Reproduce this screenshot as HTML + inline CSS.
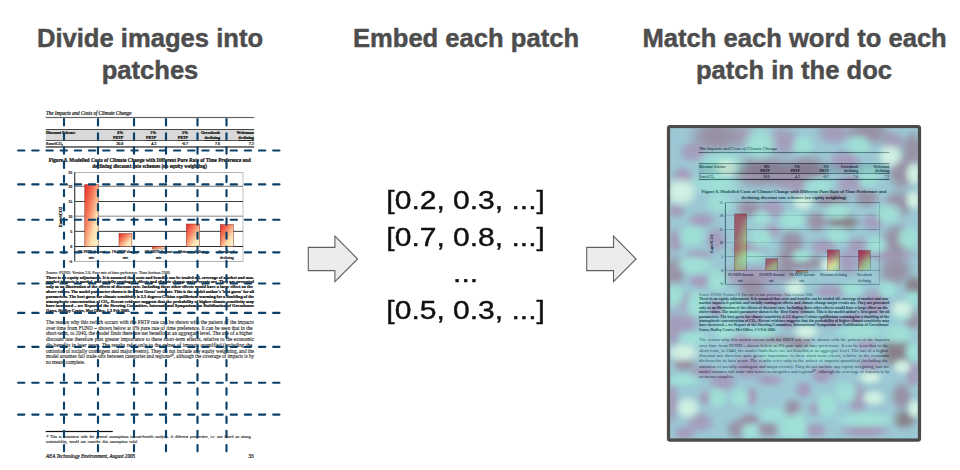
<!DOCTYPE html>
<html><head><meta charset="utf-8">
<style>
html,body{margin:0;padding:0;background:#fff;width:960px;height:470px;overflow:hidden}
.t{position:absolute;font-family:"Liberation Sans",sans-serif;font-weight:bold;color:#4d4d4d;font-size:25.6px;line-height:31.6px;-webkit-text-stroke:0.45px #4d4d4d;text-align:center;white-space:nowrap}
.v{position:absolute;font-family:"Liberation Sans",sans-serif;color:#111;font-size:25px;line-height:36.5px;text-align:center;white-space:nowrap;transform:scaleX(1.2);transform-origin:465.6px 0;-webkit-text-stroke:0.4px #111}
svg{position:absolute;left:0;top:0}
</style></head><body>
<svg width="960" height="470" viewBox="0 0 960 470" font-family="Liberation Serif">
<defs>
<linearGradient id="bargrad" x1="0" y1="0" x2="1" y2="1">
<stop offset="0" stop-color="#e8282a"/><stop offset="0.35" stop-color="#f57a5a"/><stop offset="0.7" stop-color="#fde0b0"/><stop offset="1" stop-color="#fff8d0"/>
</linearGradient>
<linearGradient id="bargradR" x1="0" y1="0" x2="0.6" y2="1"><stop offset="0" stop-color="#ff1820"/><stop offset="0.35" stop-color="#ff3a3a"/><stop offset="0.75" stop-color="#ffe070"/><stop offset="1" stop-color="#f0ffa0"/></linearGradient>
<radialGradient id="gPU"><stop offset="0" stop-color="#4b3a78" stop-opacity="1"/><stop offset="0.45" stop-color="#4b3a78" stop-opacity="0.9"/><stop offset="0.75" stop-color="#4b3a78" stop-opacity="0.4"/><stop offset="1" stop-color="#4b3a78" stop-opacity="0"/></radialGradient>
<radialGradient id="gMV"><stop offset="0" stop-color="#35224a" stop-opacity="1"/><stop offset="0.45" stop-color="#35224a" stop-opacity="0.9"/><stop offset="0.75" stop-color="#35224a" stop-opacity="0.4"/><stop offset="1" stop-color="#35224a" stop-opacity="0"/></radialGradient>
<radialGradient id="gDK"><stop offset="0" stop-color="#150015" stop-opacity="1"/><stop offset="0.45" stop-color="#150015" stop-opacity="0.9"/><stop offset="0.75" stop-color="#150015" stop-opacity="0.4"/><stop offset="1" stop-color="#150015" stop-opacity="0"/></radialGradient>
<radialGradient id="gLC"><stop offset="0" stop-color="#41c3af" stop-opacity="1"/><stop offset="0.45" stop-color="#41c3af" stop-opacity="0.9"/><stop offset="0.75" stop-color="#41c3af" stop-opacity="0.4"/><stop offset="1" stop-color="#41c3af" stop-opacity="0"/></radialGradient>
<radialGradient id="gBR"><stop offset="0" stop-color="#a8e6c8" stop-opacity="1"/><stop offset="0.45" stop-color="#a8e6c8" stop-opacity="0.9"/><stop offset="0.75" stop-color="#a8e6c8" stop-opacity="0.4"/><stop offset="1" stop-color="#a8e6c8" stop-opacity="0"/></radialGradient>

<g id="doc">
<text stroke="#222" stroke-width="0.22" x="46" y="114.6" font-size="5.05" font-style="italic" fill="#222">The Impacts and Costs of Climate Change</text>
<rect x="45.7" y="116.9" width="208.5" height="1.2" fill="#666"/>
<rect x="45.7" y="129.6" width="208.5" height="10.8" fill="#d9d9d9"/>
<rect x="45.7" y="129.0" width="208.5" height="0.9" fill="#333"/>
<rect x="45.7" y="140.2" width="208.5" height="0.8" fill="#333"/>
<rect x="45.7" y="146.3" width="208.5" height="1.3" fill="#333"/>
<text stroke="#111" stroke-width="0.22" x="46" y="134.3" font-size="4" font-weight="bold" fill="#111">Discount Scheme</text>
<text stroke="#111" stroke-width="0.22" x="123.3" y="134.0" font-size="4" font-weight="bold" text-anchor="end" fill="#111">0%</text>
<text stroke="#111" stroke-width="0.22" x="123.3" y="139.3" font-size="4" font-weight="bold" text-anchor="end" fill="#111" text-decoration="underline">PRTP</text>
<text stroke="#111" stroke-width="0.22" x="123.3" y="145.2" font-size="4" text-anchor="end" fill="#111">20.8</text>
<text stroke="#111" stroke-width="0.22" x="156.3" y="134.0" font-size="4" font-weight="bold" text-anchor="end" fill="#111">1%</text>
<text stroke="#111" stroke-width="0.22" x="156.3" y="139.3" font-size="4" font-weight="bold" text-anchor="end" fill="#111" text-decoration="underline">PRTP</text>
<text stroke="#111" stroke-width="0.22" x="156.3" y="145.2" font-size="4" text-anchor="end" fill="#111">4.2</text>
<text stroke="#111" stroke-width="0.22" x="188" y="134.0" font-size="4" font-weight="bold" text-anchor="end" fill="#111">3%</text>
<text stroke="#111" stroke-width="0.22" x="188" y="139.3" font-size="4" font-weight="bold" text-anchor="end" fill="#111" text-decoration="underline">PRTP</text>
<text stroke="#111" stroke-width="0.22" x="188" y="145.2" font-size="4" text-anchor="end" fill="#111">-0.7</text>
<text stroke="#111" stroke-width="0.22" x="220" y="134.0" font-size="4" font-weight="bold" text-anchor="end" fill="#111">Greenbook</text>
<text stroke="#111" stroke-width="0.22" x="220" y="139.3" font-size="4" font-weight="bold" text-anchor="end" fill="#111" text-decoration="underline">declining</text>
<text stroke="#111" stroke-width="0.22" x="220" y="145.2" font-size="4" text-anchor="end" fill="#111">7.6</text>
<text stroke="#111" stroke-width="0.22" x="253.8" y="134.0" font-size="4" font-weight="bold" text-anchor="end" fill="#111">Weitzman</text>
<text stroke="#111" stroke-width="0.22" x="253.8" y="139.3" font-size="4" font-weight="bold" text-anchor="end" fill="#111" text-decoration="underline">declining</text>
<text stroke="#111" stroke-width="0.22" x="253.8" y="145.2" font-size="4" text-anchor="end" fill="#111">7.2</text>
<text stroke="#111" stroke-width="0.22" x="46" y="145.2" font-size="4" fill="#111">Euro/tCO₂</text>
<text stroke="#111" stroke-width="0.22" x="48.8" y="162.0" font-size="5.35" font-weight="bold" fill="#111" textLength="201.9" lengthAdjust="spacingAndGlyphs">Figure 8.  Modelled Costs of Climate Change with Different Pure Rate of Time Preference and</text>
<text stroke="#111" stroke-width="0.22" x="92.3" y="167.9" font-size="5.35" font-weight="bold" fill="#111" textLength="114.7" lengthAdjust="spacingAndGlyphs">declining discount rate schemes (no equity weighting)</text>
<rect x="74.9" y="172.3" width="168.1" height="89.2" fill="#fff" stroke="#999" stroke-width="0.6"/>
<rect class="gl" x="74.9" y="172.0" width="168.1" height="0.6" fill="#aaa"/>
<text stroke="#222" stroke-width="0.22" x="72.3" y="173.60000000000002" font-size="4" text-anchor="end" fill="#222">25</text>
<rect class="gl" x="74.9" y="185.70000000000002" width="168.1" height="1.2" fill="#888"/>
<text stroke="#222" stroke-width="0.22" x="72.3" y="187.60000000000002" font-size="4" text-anchor="end" fill="#222">20</text>
<rect class="gl" x="74.9" y="201.2" width="168.1" height="0.8" fill="#111"/>
<text stroke="#222" stroke-width="0.22" x="72.3" y="202.9" font-size="4" text-anchor="end" fill="#222">15</text>
<rect class="gl" x="74.9" y="215.6" width="168.1" height="1.2" fill="#999"/>
<text stroke="#222" stroke-width="0.22" x="72.3" y="217.5" font-size="4" text-anchor="end" fill="#222">10</text>
<rect class="gl" x="74.9" y="230.9" width="168.1" height="0.8" fill="#111"/>
<text stroke="#222" stroke-width="0.22" x="72.3" y="232.60000000000002" font-size="4" text-anchor="end" fill="#222">5</text>
<rect class="gl" x="74.9" y="246.05" width="168.1" height="0.9" fill="#111"/>
<text stroke="#222" stroke-width="0.22" x="72.3" y="247.8" font-size="4" text-anchor="end" fill="#222">0</text>
<rect class="gl" x="74.9" y="261.09999999999997" width="168.1" height="0.6" fill="#aaa"/>
<text stroke="#222" stroke-width="0.22" x="72.3" y="262.7" font-size="4" text-anchor="end" fill="#222">-5</text>
<rect x="74.3" y="172.3" width="0.9" height="89.2" fill="#222"/>
<text stroke="#111" stroke-width="0.22" transform="translate(61.6,217) rotate(-90)" font-size="4.3" font-weight="bold" text-anchor="middle" fill="#111">Euro/tCO2</text>
<rect x="84.8" y="184.6" width="13.400000000000006" height="61.900000000000006" fill="url(#bargrad)" stroke="#8a2a1a" stroke-width="0.5"/>
<rect x="119" y="233.5" width="12.900000000000006" height="13.0" fill="url(#bargrad)" stroke="#8a2a1a" stroke-width="0.5"/>
<rect x="152.3" y="246.5" width="12.699999999999989" height="2.5" fill="url(#bargrad)" stroke="#8a2a1a" stroke-width="0.5"/>
<rect x="186.3" y="224.0" width="13.299999999999983" height="22.5" fill="url(#bargrad)" stroke="#8a2a1a" stroke-width="0.5"/>
<rect x="220.3" y="224.6" width="13.0" height="21.900000000000006" fill="url(#bargrad)" stroke="#8a2a1a" stroke-width="0.5"/>
<text stroke="#222" stroke-width="0.22" x="91.5" y="253.0" font-size="3.7" text-anchor="middle" fill="#222">0% PRTP discount</text>
<text stroke="#222" stroke-width="0.22" x="91.5" y="259.1" font-size="3.7" text-anchor="middle" fill="#222">rate</text>
<text stroke="#222" stroke-width="0.22" x="125.45" y="253.0" font-size="3.7" text-anchor="middle" fill="#222">1% PRTP discount</text>
<text stroke="#222" stroke-width="0.22" x="125.45" y="259.1" font-size="3.7" text-anchor="middle" fill="#222">rate</text>
<text stroke="#222" stroke-width="0.22" x="158.65" y="253.0" font-size="3.7" text-anchor="middle" fill="#222">3% PRTP discount</text>
<text stroke="#222" stroke-width="0.22" x="158.65" y="259.1" font-size="3.7" text-anchor="middle" fill="#222">rate</text>
<text stroke="#222" stroke-width="0.22" x="192.95" y="253.0" font-size="3.7" text-anchor="middle" fill="#222">Weitzman declining</text>
<text stroke="#222" stroke-width="0.22" x="226.8" y="253.0" font-size="3.7" text-anchor="middle" fill="#222">Greenbook</text>
<text stroke="#222" stroke-width="0.22" x="226.8" y="259.1" font-size="3.7" text-anchor="middle" fill="#222">declining</text>
<text stroke="#555" stroke-width="0.22" x="46" y="274.3" font-size="3.9" fill="#555" textLength="124.6" lengthAdjust="spacingAndGlyphs">Source: FUND.  Version 2.8.  Pure rate of time preference.  Time horizon 2300.</text>
<text stroke="#111" stroke-width="0.22" x="46" y="278.60" font-size="4.3" fill="#111" font-weight="bold" textLength="208" lengthAdjust="spacingAndGlyphs">There is no equity adjustment.  It is assumed that costs and benefits can be traded off, coverage of market and non-</text>
<text stroke="#111" stroke-width="0.22" x="46" y="283.41" font-size="4.3" fill="#111" font-weight="bold" textLength="208" lengthAdjust="spacingAndGlyphs">market impacts is partial, and socially contingent effects and climate change major events are.  They are presented</text>
<text stroke="#111" stroke-width="0.22" x="46" y="288.22" font-size="4.3" fill="#111" font-weight="bold" word-spacing="0.016">only as an illustration of the effects of discount rate.  Including these other effects would have a large effect on the</text>
<text stroke="#111" stroke-width="0.22" x="46" y="293.03" font-size="4.3" fill="#111" font-weight="bold" textLength="208" lengthAdjust="spacingAndGlyphs">above values.  The model parameter shown is the 'Best Guess' estimate.  This is the model author's 'best guess' for all</text>
<text stroke="#111" stroke-width="0.22" x="46" y="297.84" font-size="4.3" fill="#111" font-weight="bold" textLength="208" lengthAdjust="spacingAndGlyphs">parameters.  The best guess for climate sensitivity is 2.5 degrees Celsius equilibrium warming for a doubling of the</text>
<text stroke="#111" stroke-width="0.22" x="46" y="302.65" font-size="4.3" fill="#111" font-weight="bold" textLength="208" lengthAdjust="spacingAndGlyphs">atmospheric concentration of CO₂.  Recent evidence suggests that the probability of higher climate sensitivity may</text>
<text stroke="#111" stroke-width="0.22" x="46" y="307.46" font-size="4.3" fill="#111" font-weight="bold" word-spacing="0.129">have increased – see Report of the Steering Committee, International Symposium on Stabilisation of Greenhouse</text>
<text stroke="#111" stroke-width="0.22" x="46" y="312.27" font-size="4.3" fill="#111" font-weight="bold" textLength="84" lengthAdjust="spacingAndGlyphs">Gases, Hadley Centre, Met Office, 1-3 Feb 2005.</text>
<text stroke="#1a1a1a" stroke-width="0.099" class="n" x="46" y="323.90" font-size="5.2" fill="#1a1a1a" word-spacing="0.096">The reason why this switch occurs with the PRTP rate can be shown with the pattern of the impacts</text>
<text stroke="#1a1a1a" stroke-width="0.099" class="n" x="46" y="329.63" font-size="5.2" fill="#1a1a1a" word-spacing="0.110">over time from FUND – shown below at 0% pure rate of time preference.  It can be seen that in the</text>
<text stroke="#1a1a1a" stroke-width="0.099" class="n" x="46" y="335.36" font-size="5.2" fill="#1a1a1a" word-spacing="0.030">short-term, to 2040, the model finds there are net benefits at an aggregate level.  The use of a higher</text>
<text stroke="#1a1a1a" stroke-width="0.099" class="n" x="46" y="341.09" font-size="5.2" fill="#1a1a1a" word-spacing="0.252">discount rate therefore puts greater importance to these short-term effects, relative to the economic</text>
<text stroke="#1a1a1a" stroke-width="0.099" class="n" x="46" y="346.82" font-size="5.2" fill="#1a1a1a" word-spacing="0.278">dis-benefits in later years.  The results refer only to the subset of impacts quantified (including the</text>
<text stroke="#1a1a1a" stroke-width="0.099" class="n" x="46" y="352.55" font-size="5.2" fill="#1a1a1a" textLength="208" lengthAdjust="spacingAndGlyphs">omission of socially contingent and major events).  They do not include any equity weighting, and the</text>
<text stroke="#1a1a1a" stroke-width="0.099" class="n" x="46" y="358.28" font-size="5.2" fill="#1a1a1a" textLength="208" lengthAdjust="spacingAndGlyphs">model assumes full trade-offs between categories and regions⁴⁰, although the coverage of impacts is by</text>
<text stroke="#1a1a1a" stroke-width="0.099" class="n" x="46" y="364.01" font-size="5.2" fill="#1a1a1a" textLength="39" lengthAdjust="spacingAndGlyphs">no means complete.</text>
<rect x="45.7" y="430.9" width="67.1" height="1.2" fill="#111"/>
<text stroke="#222" stroke-width="0.099" class="n" x="46" y="438.30" font-size="3.9" fill="#222" word-spacing="0.851">⁴⁰ This is consistent with the general assumptions in cost-benefit analysis.  A different perspective, i.e. one based on strong</text>
<text stroke="#222" stroke-width="0.099" class="n" x="46" y="442.80" font-size="3.9" fill="#222" word-spacing="0.787">sustainability, would not consider this assumption valid.</text>
<text stroke="#222" stroke-width="0.22" x="46" y="458" font-size="5.07" font-style="italic" fill="#222" textLength="89" lengthAdjust="spacingAndGlyphs">AEA Technology Environment, August 2005</text>
<text stroke="#222" stroke-width="0.22" x="253.5" y="458" font-size="5.07" text-anchor="end" fill="#222">33</text>
</g>
<g id="docR">
<text stroke="#222" stroke-width="0.1" x="46" y="114.6" font-size="5.05" font-style="italic" fill="#222">The Impacts and Costs of Climate Change</text>
<rect x="45.7" y="116.9" width="208.5" height="1.2" fill="#666"/>
<rect x="45.7" y="129.6" width="208.5" height="10.8" fill="#d9d9d9"/>
<rect x="45.7" y="129.0" width="208.5" height="0.9" fill="#333"/>
<rect x="45.7" y="140.2" width="208.5" height="0.8" fill="#333"/>
<rect x="45.7" y="146.3" width="208.5" height="1.3" fill="#333"/>
<text stroke="#111" stroke-width="0.1" x="46" y="134.3" font-size="4" font-weight="bold" fill="#111">Discount Scheme</text>
<text stroke="#111" stroke-width="0.1" x="123.3" y="134.0" font-size="4" font-weight="bold" text-anchor="end" fill="#111">0%</text>
<text stroke="#111" stroke-width="0.1" x="123.3" y="139.3" font-size="4" font-weight="bold" text-anchor="end" fill="#111" text-decoration="underline">PRTP</text>
<text stroke="#111" stroke-width="0.1" x="123.3" y="145.2" font-size="4" text-anchor="end" fill="#111">20.8</text>
<text stroke="#111" stroke-width="0.1" x="156.3" y="134.0" font-size="4" font-weight="bold" text-anchor="end" fill="#111">1%</text>
<text stroke="#111" stroke-width="0.1" x="156.3" y="139.3" font-size="4" font-weight="bold" text-anchor="end" fill="#111" text-decoration="underline">PRTP</text>
<text stroke="#111" stroke-width="0.1" x="156.3" y="145.2" font-size="4" text-anchor="end" fill="#111">4.2</text>
<text stroke="#111" stroke-width="0.1" x="188" y="134.0" font-size="4" font-weight="bold" text-anchor="end" fill="#111">3%</text>
<text stroke="#111" stroke-width="0.1" x="188" y="139.3" font-size="4" font-weight="bold" text-anchor="end" fill="#111" text-decoration="underline">PRTP</text>
<text stroke="#111" stroke-width="0.1" x="188" y="145.2" font-size="4" text-anchor="end" fill="#111">-0.7</text>
<text stroke="#111" stroke-width="0.1" x="220" y="134.0" font-size="4" font-weight="bold" text-anchor="end" fill="#111">Greenbook</text>
<text stroke="#111" stroke-width="0.1" x="220" y="139.3" font-size="4" font-weight="bold" text-anchor="end" fill="#111" text-decoration="underline">declining</text>
<text stroke="#111" stroke-width="0.1" x="220" y="145.2" font-size="4" text-anchor="end" fill="#111">7.6</text>
<text stroke="#111" stroke-width="0.1" x="253.8" y="134.0" font-size="4" font-weight="bold" text-anchor="end" fill="#111">Weitzman</text>
<text stroke="#111" stroke-width="0.1" x="253.8" y="139.3" font-size="4" font-weight="bold" text-anchor="end" fill="#111" text-decoration="underline">declining</text>
<text stroke="#111" stroke-width="0.1" x="253.8" y="145.2" font-size="4" text-anchor="end" fill="#111">7.2</text>
<text stroke="#111" stroke-width="0.1" x="46" y="145.2" font-size="4" fill="#111">Euro/tCO₂</text>
<text stroke="#111" stroke-width="0.1" x="48.8" y="162.0" font-size="5.35" font-weight="bold" fill="#111" textLength="201.9" lengthAdjust="spacingAndGlyphs">Figure 8.  Modelled Costs of Climate Change with Different Pure Rate of Time Preference and</text>
<text stroke="#111" stroke-width="0.1" x="92.3" y="167.9" font-size="5.35" font-weight="bold" fill="#111" textLength="114.7" lengthAdjust="spacingAndGlyphs">declining discount rate schemes (no equity weighting)</text>
<rect x="74.9" y="172.3" width="168.1" height="89.2" fill="#fff" stroke="#999" stroke-width="0.6"/>
<rect class="gl" x="74.9" y="172.0" width="168.1" height="0.5" fill="#555"/>
<text stroke="#222" stroke-width="0.1" x="72.3" y="173.60000000000002" font-size="4" text-anchor="end" fill="#222">25</text>
<rect class="gl" x="74.9" y="185.70000000000002" width="168.1" height="0.5" fill="#9a9a9a"/>
<text stroke="#222" stroke-width="0.1" x="72.3" y="187.60000000000002" font-size="4" text-anchor="end" fill="#222">20</text>
<rect class="gl" x="74.9" y="201.2" width="168.1" height="0.5" fill="#555"/>
<text stroke="#222" stroke-width="0.1" x="72.3" y="202.9" font-size="4" text-anchor="end" fill="#222">15</text>
<rect class="gl" x="74.9" y="215.6" width="168.1" height="0.5" fill="#9a9a9a"/>
<text stroke="#222" stroke-width="0.1" x="72.3" y="217.5" font-size="4" text-anchor="end" fill="#222">10</text>
<rect class="gl" x="74.9" y="230.9" width="168.1" height="0.5" fill="#555"/>
<text stroke="#222" stroke-width="0.1" x="72.3" y="232.60000000000002" font-size="4" text-anchor="end" fill="#222">5</text>
<rect class="gl" x="74.9" y="246.05" width="168.1" height="0.5" fill="#555"/>
<text stroke="#222" stroke-width="0.1" x="72.3" y="247.8" font-size="4" text-anchor="end" fill="#222">0</text>
<rect class="gl" x="74.9" y="261.09999999999997" width="168.1" height="0.5" fill="#555"/>
<text stroke="#222" stroke-width="0.1" x="72.3" y="262.7" font-size="4" text-anchor="end" fill="#222">-5</text>
<rect x="74.3" y="172.3" width="0.9" height="89.2" fill="#222"/>
<text stroke="#111" stroke-width="0.1" transform="translate(61.6,217) rotate(-90)" font-size="4.3" font-weight="bold" text-anchor="middle" fill="#111">Euro/tCO2</text>
<rect x="84.8" y="184.6" width="13.400000000000006" height="61.900000000000006" fill="url(#bargradR)" stroke="#8a2a1a" stroke-width="0.5"/>
<rect x="119" y="233.5" width="12.900000000000006" height="13.0" fill="url(#bargradR)" stroke="#8a2a1a" stroke-width="0.5"/>
<rect x="152.3" y="246.5" width="12.699999999999989" height="2.5" fill="url(#bargradR)" stroke="#8a2a1a" stroke-width="0.5"/>
<rect x="186.3" y="224.0" width="13.299999999999983" height="22.5" fill="url(#bargradR)" stroke="#8a2a1a" stroke-width="0.5"/>
<rect x="220.3" y="224.6" width="13.0" height="21.900000000000006" fill="url(#bargradR)" stroke="#8a2a1a" stroke-width="0.5"/>
<text stroke="#222" stroke-width="0.1" x="91.5" y="253.0" font-size="3.7" text-anchor="middle" fill="#222">0% PRTP discount</text>
<text stroke="#222" stroke-width="0.1" x="91.5" y="259.1" font-size="3.7" text-anchor="middle" fill="#222">rate</text>
<text stroke="#222" stroke-width="0.1" x="125.45" y="253.0" font-size="3.7" text-anchor="middle" fill="#222">1% PRTP discount</text>
<text stroke="#222" stroke-width="0.1" x="125.45" y="259.1" font-size="3.7" text-anchor="middle" fill="#222">rate</text>
<text stroke="#222" stroke-width="0.1" x="158.65" y="253.0" font-size="3.7" text-anchor="middle" fill="#222">3% PRTP discount</text>
<text stroke="#222" stroke-width="0.1" x="158.65" y="259.1" font-size="3.7" text-anchor="middle" fill="#222">rate</text>
<text stroke="#222" stroke-width="0.1" x="192.95" y="253.0" font-size="3.7" text-anchor="middle" fill="#222">Weitzman declining</text>
<text stroke="#222" stroke-width="0.1" x="226.8" y="253.0" font-size="3.7" text-anchor="middle" fill="#222">Greenbook</text>
<text stroke="#222" stroke-width="0.1" x="226.8" y="259.1" font-size="3.7" text-anchor="middle" fill="#222">declining</text>
<text stroke="#555" stroke-width="0.1" x="46" y="274.3" font-size="3.9" fill="#555" textLength="124.6" lengthAdjust="spacingAndGlyphs">Source: FUND.  Version 2.8.  Pure rate of time preference.  Time horizon 2300.</text>
<text stroke="#111" stroke-width="0.1" x="46" y="278.60" font-size="4.3" fill="#111" font-weight="bold" textLength="208" lengthAdjust="spacingAndGlyphs">There is no equity adjustment.  It is assumed that costs and benefits can be traded off, coverage of market and non-</text>
<text stroke="#111" stroke-width="0.1" x="46" y="283.41" font-size="4.3" fill="#111" font-weight="bold" textLength="208" lengthAdjust="spacingAndGlyphs">market impacts is partial, and socially contingent effects and climate change major events are.  They are presented</text>
<text stroke="#111" stroke-width="0.1" x="46" y="288.22" font-size="4.3" fill="#111" font-weight="bold" word-spacing="0.016">only as an illustration of the effects of discount rate.  Including these other effects would have a large effect on the</text>
<text stroke="#111" stroke-width="0.1" x="46" y="293.03" font-size="4.3" fill="#111" font-weight="bold" textLength="208" lengthAdjust="spacingAndGlyphs">above values.  The model parameter shown is the 'Best Guess' estimate.  This is the model author's 'best guess' for all</text>
<text stroke="#111" stroke-width="0.1" x="46" y="297.84" font-size="4.3" fill="#111" font-weight="bold" textLength="208" lengthAdjust="spacingAndGlyphs">parameters.  The best guess for climate sensitivity is 2.5 degrees Celsius equilibrium warming for a doubling of the</text>
<text stroke="#111" stroke-width="0.1" x="46" y="302.65" font-size="4.3" fill="#111" font-weight="bold" textLength="208" lengthAdjust="spacingAndGlyphs">atmospheric concentration of CO₂.  Recent evidence suggests that the probability of higher climate sensitivity may</text>
<text stroke="#111" stroke-width="0.1" x="46" y="307.46" font-size="4.3" fill="#111" font-weight="bold" word-spacing="0.129">have increased – see Report of the Steering Committee, International Symposium on Stabilisation of Greenhouse</text>
<text stroke="#111" stroke-width="0.1" x="46" y="312.27" font-size="4.3" fill="#111" font-weight="bold" textLength="84" lengthAdjust="spacingAndGlyphs">Gases, Hadley Centre, Met Office, 1-3 Feb 2005.</text>
<text stroke="#1a1a1a" stroke-width="0.045" class="n" x="46" y="323.90" font-size="5.2" fill="#1a1a1a" word-spacing="0.096">The reason why this switch occurs with the PRTP rate can be shown with the pattern of the impacts</text>
<text stroke="#1a1a1a" stroke-width="0.045" class="n" x="46" y="329.63" font-size="5.2" fill="#1a1a1a" word-spacing="0.110">over time from FUND – shown below at 0% pure rate of time preference.  It can be seen that in the</text>
<text stroke="#1a1a1a" stroke-width="0.045" class="n" x="46" y="335.36" font-size="5.2" fill="#1a1a1a" word-spacing="0.030">short-term, to 2040, the model finds there are net benefits at an aggregate level.  The use of a higher</text>
<text stroke="#1a1a1a" stroke-width="0.045" class="n" x="46" y="341.09" font-size="5.2" fill="#1a1a1a" word-spacing="0.252">discount rate therefore puts greater importance to these short-term effects, relative to the economic</text>
<text stroke="#1a1a1a" stroke-width="0.045" class="n" x="46" y="346.82" font-size="5.2" fill="#1a1a1a" word-spacing="0.278">dis-benefits in later years.  The results refer only to the subset of impacts quantified (including the</text>
<text stroke="#1a1a1a" stroke-width="0.045" class="n" x="46" y="352.55" font-size="5.2" fill="#1a1a1a" textLength="208" lengthAdjust="spacingAndGlyphs">omission of socially contingent and major events).  They do not include any equity weighting, and the</text>
<text stroke="#1a1a1a" stroke-width="0.045" class="n" x="46" y="358.28" font-size="5.2" fill="#1a1a1a" textLength="208" lengthAdjust="spacingAndGlyphs">model assumes full trade-offs between categories and regions⁴⁰, although the coverage of impacts is by</text>
<text stroke="#1a1a1a" stroke-width="0.045" class="n" x="46" y="364.01" font-size="5.2" fill="#1a1a1a" textLength="39" lengthAdjust="spacingAndGlyphs">no means complete.</text>
<rect x="45.7" y="430.9" width="67.1" height="1.2" fill="#111"/>
<text stroke="#222" stroke-width="0.045" class="n" x="46" y="438.30" font-size="3.9" fill="#222" word-spacing="0.851">⁴⁰ This is consistent with the general assumptions in cost-benefit analysis.  A different perspective, i.e. one based on strong</text>
<text stroke="#222" stroke-width="0.045" class="n" x="46" y="442.80" font-size="3.9" fill="#222" word-spacing="0.787">sustainability, would not consider this assumption valid.</text>
<text stroke="#222" stroke-width="0.1" x="46" y="458" font-size="5.07" font-style="italic" fill="#222" textLength="89" lengthAdjust="spacingAndGlyphs">AEA Technology Environment, August 2005</text>
<text stroke="#222" stroke-width="0.1" x="253.5" y="458" font-size="5.07" text-anchor="end" fill="#222">33</text>
</g>
</defs>
<use href="#doc"/>
<g stroke="#0c4068" stroke-width="2.15" stroke-linecap="round" stroke-dasharray="6.3 7.87" fill="none">
<line x1="18.1" y1="150.5" x2="281.2" y2="150.5"/>
<line x1="18.1" y1="184.4" x2="281.2" y2="184.4"/>
<line x1="18.1" y1="219.7" x2="281.2" y2="219.7"/>
<line x1="18.1" y1="252.3" x2="281.2" y2="252.3"/>
<line x1="18.1" y1="283.5" x2="281.2" y2="283.5"/>
<line x1="18.1" y1="312.9" x2="281.2" y2="312.9"/>
<line x1="18.1" y1="346.8" x2="281.2" y2="346.8"/>
<line x1="18.1" y1="382.7" x2="281.2" y2="382.7"/>
<line x1="18.1" y1="414.6" x2="281.2" y2="414.6"/>
<line x1="64" y1="119.1" x2="64" y2="452"/>
<line x1="98" y1="119.1" x2="98" y2="452"/>
<line x1="134" y1="119.1" x2="134" y2="452"/>
<line x1="166" y1="119.1" x2="166" y2="452"/>
<line x1="197.5" y1="119.1" x2="197.5" y2="452"/>
<line x1="226.5" y1="119.1" x2="226.5" y2="452"/>
</g>
<!-- arrows -->
<path d="M308.3 247.4 H334.9 V236.2 L357.6 259 L334.9 281.7 V270.6 H308.3 Z" fill="#ececec" stroke="#606060" stroke-width="1.1"/>
<path d="M586.7 247.4 H613.5 V236.2 L636.1 259 L613.5 281.7 V270.6 H586.7 Z" fill="#ececec" stroke="#606060" stroke-width="1.1"/>
<!-- right doc -->
<rect x="668.6" y="126.6" width="250.8" height="313.4" rx="1.5" fill="#fff" stroke="#4b4b4b" stroke-width="3.4"/>
<clipPath id="rclip"><rect x="670.3" y="128.3" width="247.4" height="310.2"/></clipPath>
<g clip-path="url(#rclip)"><g transform="translate(656.9,45) scale(0.915)"><use href="#docR"/></g>
<filter id="hblur" x="-10%" y="-10%" width="120%" height="120%"><feGaussianBlur stdDeviation="2"/></filter>
<g opacity="0.5" filter="url(#hblur)"><rect x="660" y="120" width="270" height="330" fill="#3791a9"/>
<ellipse cx="693.0" cy="152.0" rx="16.5" ry="12.2" fill="url(#gPU)"/>
<ellipse cx="744.0" cy="137.0" rx="15.0" ry="13.6" fill="url(#gPU)"/>
<ellipse cx="782.0" cy="141.0" rx="20.8" ry="17.9" fill="url(#gPU)"/>
<ellipse cx="788.0" cy="180.0" rx="16.5" ry="15.0" fill="url(#gPU)"/>
<ellipse cx="682.5" cy="175.5" rx="12.2" ry="10.7" fill="url(#gPU)"/>
<ellipse cx="834.0" cy="133.0" rx="20.8" ry="13.6" fill="url(#gPU)"/>
<ellipse cx="893.0" cy="141.0" rx="13.6" ry="12.2" fill="url(#gPU)"/>
<ellipse cx="845.0" cy="161.0" rx="19.4" ry="13.6" fill="url(#gPU)"/>
<ellipse cx="798.0" cy="186.0" rx="10.7" ry="10.7" fill="url(#gPU)"/>
<ellipse cx="850.0" cy="184.0" rx="16.5" ry="12.2" fill="url(#gPU)"/>
<ellipse cx="676.6" cy="211.0" rx="10.7" ry="9.2" fill="url(#gPU)"/>
<ellipse cx="701.7" cy="220.0" rx="16.5" ry="9.2" fill="url(#gPU)"/>
<ellipse cx="772.0" cy="209.0" rx="16.5" ry="12.2" fill="url(#gPU)"/>
<ellipse cx="675.0" cy="241.0" rx="9.2" ry="15.0" fill="url(#gPU)"/>
<ellipse cx="716.0" cy="240.0" rx="12.2" ry="15.0" fill="url(#gPU)"/>
<ellipse cx="770.0" cy="231.0" rx="13.6" ry="9.2" fill="url(#gPU)"/>
<ellipse cx="749.0" cy="249.0" rx="20.8" ry="9.2" fill="url(#gPU)"/>
<ellipse cx="873.0" cy="222.3" rx="13.6" ry="10.7" fill="url(#gPU)"/>
<ellipse cx="824.0" cy="247.0" rx="16.5" ry="10.7" fill="url(#gPU)"/>
<ellipse cx="858.6" cy="247.0" rx="15.0" ry="12.2" fill="url(#gPU)"/>
<ellipse cx="699.0" cy="256.0" rx="16.5" ry="7.8" fill="url(#gPU)"/>
<ellipse cx="700.3" cy="281.0" rx="15.0" ry="9.2" fill="url(#gPU)"/>
<ellipse cx="685.0" cy="302.0" rx="13.6" ry="12.2" fill="url(#gPU)"/>
<ellipse cx="718.0" cy="308.0" rx="12.2" ry="10.7" fill="url(#gPU)"/>
<ellipse cx="771.0" cy="298.0" rx="23.8" ry="12.2" fill="url(#gPU)"/>
<ellipse cx="755.0" cy="276.0" rx="45.5" ry="13.6" fill="url(#gPU)"/>
<ellipse cx="831.0" cy="291.6" rx="20.8" ry="9.2" fill="url(#gPU)"/>
<ellipse cx="874.5" cy="303.5" rx="19.4" ry="17.9" fill="url(#gPU)"/>
<ellipse cx="890.0" cy="255.0" rx="31.0" ry="7.8" fill="url(#gPU)"/>
<ellipse cx="848.5" cy="262.0" rx="15.0" ry="16.5" fill="url(#gPU)"/>
<ellipse cx="799.0" cy="308.0" rx="10.7" ry="10.7" fill="url(#gPU)"/>
<ellipse cx="684.5" cy="323.2" rx="16.5" ry="12.2" fill="url(#gPU)"/>
<ellipse cx="674.0" cy="329.0" rx="9.2" ry="23.8" fill="url(#gPU)"/>
<ellipse cx="746.0" cy="341.0" rx="25.2" ry="9.2" fill="url(#gPU)"/>
<ellipse cx="749.0" cy="366.8" rx="20.8" ry="15.0" fill="url(#gPU)"/>
<ellipse cx="703.5" cy="371.5" rx="16.5" ry="9.2" fill="url(#gPU)"/>
<ellipse cx="752.0" cy="318.0" rx="16.5" ry="7.8" fill="url(#gPU)"/>
<ellipse cx="788.5" cy="320.5" rx="10.7" ry="12.2" fill="url(#gPU)"/>
<ellipse cx="831.5" cy="321.5" rx="15.0" ry="7.8" fill="url(#gPU)"/>
<ellipse cx="866.6" cy="343.7" rx="15.0" ry="9.2" fill="url(#gPU)"/>
<ellipse cx="870.5" cy="364.0" rx="16.5" ry="9.2" fill="url(#gPU)"/>
<ellipse cx="912.5" cy="370.0" rx="10.7" ry="10.7" fill="url(#gPU)"/>
<ellipse cx="824.0" cy="372.0" rx="16.5" ry="7.8" fill="url(#gPU)"/>
<ellipse cx="853.5" cy="318.0" rx="15.0" ry="7.8" fill="url(#gPU)"/>
<ellipse cx="672.7" cy="403.0" rx="7.8" ry="25.2" fill="url(#gPU)"/>
<ellipse cx="705.4" cy="397.8" rx="9.2" ry="9.2" fill="url(#gPU)"/>
<ellipse cx="723.0" cy="381.4" rx="16.5" ry="12.2" fill="url(#gPU)"/>
<ellipse cx="751.7" cy="396.4" rx="7.8" ry="12.2" fill="url(#gPU)"/>
<ellipse cx="769.5" cy="380.0" rx="16.5" ry="7.8" fill="url(#gPU)"/>
<ellipse cx="700.0" cy="422.3" rx="16.5" ry="12.2" fill="url(#gPU)"/>
<ellipse cx="685.0" cy="433.0" rx="13.6" ry="9.2" fill="url(#gPU)"/>
<ellipse cx="803.5" cy="389.6" rx="10.7" ry="10.7" fill="url(#gPU)"/>
<ellipse cx="821.5" cy="378.5" rx="12.2" ry="6.3" fill="url(#gPU)"/>
<ellipse cx="858.0" cy="399.0" rx="12.2" ry="19.4" fill="url(#gPU)"/>
<ellipse cx="815.5" cy="408.5" rx="9.2" ry="9.2" fill="url(#gPU)"/>
<ellipse cx="815.8" cy="430.4" rx="13.6" ry="9.2" fill="url(#gPU)"/>
<ellipse cx="864.8" cy="431.0" rx="29.6" ry="9.2" fill="url(#gPU)"/>
<ellipse cx="913.0" cy="380.0" rx="9.2" ry="7.8" fill="url(#gPU)"/>
<ellipse cx="717.0" cy="136.0" rx="32.0" ry="20.0" fill="url(#gMV)"/>
<ellipse cx="762.0" cy="171.5" rx="44.0" ry="20.0" fill="url(#gMV)"/>
<ellipse cx="807.0" cy="170.0" rx="26.0" ry="18.5" fill="url(#gMV)"/>
<ellipse cx="868.0" cy="133.0" rx="26.0" ry="15.5" fill="url(#gMV)"/>
<ellipse cx="912.7" cy="150.0" rx="14.0" ry="21.5" fill="url(#gMV)"/>
<ellipse cx="902.0" cy="173.0" rx="17.0" ry="20.0" fill="url(#gMV)"/>
<ellipse cx="749.0" cy="208.5" rx="15.5" ry="11.0" fill="url(#gMV)"/>
<ellipse cx="792.0" cy="243.0" rx="15.5" ry="17.0" fill="url(#gMV)"/>
<ellipse cx="832.0" cy="199.0" rx="21.5" ry="11.0" fill="url(#gMV)"/>
<ellipse cx="866.6" cy="198.0" rx="15.5" ry="11.0" fill="url(#gMV)"/>
<ellipse cx="898.0" cy="204.5" rx="17.0" ry="17.0" fill="url(#gMV)"/>
<ellipse cx="816.4" cy="221.7" rx="12.5" ry="12.5" fill="url(#gMV)"/>
<ellipse cx="897.0" cy="240.0" rx="18.5" ry="20.0" fill="url(#gMV)"/>
<ellipse cx="675.3" cy="271.8" rx="12.5" ry="18.5" fill="url(#gMV)"/>
<ellipse cx="751.8" cy="287.6" rx="17.0" ry="17.0" fill="url(#gMV)"/>
<ellipse cx="787.4" cy="262.6" rx="14.0" ry="21.5" fill="url(#gMV)"/>
<ellipse cx="895.6" cy="270.5" rx="20.0" ry="18.5" fill="url(#gMV)"/>
<ellipse cx="807.0" cy="262.6" rx="21.5" ry="11.0" fill="url(#gMV)"/>
<ellipse cx="684.5" cy="364.0" rx="14.0" ry="9.5" fill="url(#gMV)"/>
<ellipse cx="778.0" cy="343.0" rx="24.5" ry="11.0" fill="url(#gMV)"/>
<ellipse cx="800.6" cy="343.0" rx="14.0" ry="9.5" fill="url(#gMV)"/>
<ellipse cx="912.5" cy="320.5" rx="11.0" ry="12.5" fill="url(#gMV)"/>
<ellipse cx="749.6" cy="419.6" rx="12.5" ry="8.0" fill="url(#gMV)"/>
<ellipse cx="738.0" cy="429.0" rx="14.0" ry="12.5" fill="url(#gMV)"/>
<ellipse cx="768.0" cy="429.8" rx="15.5" ry="9.5" fill="url(#gMV)"/>
<ellipse cx="793.0" cy="408.7" rx="11.0" ry="12.5" fill="url(#gMV)"/>
<ellipse cx="901.5" cy="396.4" rx="12.5" ry="17.0" fill="url(#gMV)"/>
<ellipse cx="842.8" cy="222.3" rx="21.2" ry="10.0" fill="url(#gDK)"/>
<ellipse cx="914.0" cy="286.3" rx="11.6" ry="13.2" fill="url(#gDK)"/>
<ellipse cx="895.6" cy="352.3" rx="18.0" ry="19.6" fill="url(#gDK)"/>
<ellipse cx="904.3" cy="419.6" rx="14.8" ry="11.6" fill="url(#gDK)"/>
<ellipse cx="760.0" cy="144.0" rx="20.2" ry="18.8" fill="url(#gLC)"/>
<ellipse cx="723.0" cy="164.0" rx="27.2" ry="16.0" fill="url(#gLC)"/>
<ellipse cx="716.0" cy="184.0" rx="30.0" ry="13.2" fill="url(#gLC)"/>
<ellipse cx="858.6" cy="145.0" rx="16.0" ry="11.8" fill="url(#gLC)"/>
<ellipse cx="803.0" cy="145.0" rx="13.2" ry="11.8" fill="url(#gLC)"/>
<ellipse cx="869.0" cy="177.0" rx="13.2" ry="14.6" fill="url(#gLC)"/>
<ellipse cx="819.0" cy="186.0" rx="18.8" ry="10.4" fill="url(#gLC)"/>
<ellipse cx="720.0" cy="203.0" rx="16.0" ry="11.8" fill="url(#gLC)"/>
<ellipse cx="692.0" cy="236.0" rx="16.0" ry="13.2" fill="url(#gLC)"/>
<ellipse cx="761.0" cy="237.5" rx="14.6" ry="13.2" fill="url(#gLC)"/>
<ellipse cx="790.0" cy="220.0" rx="13.2" ry="11.8" fill="url(#gLC)"/>
<ellipse cx="762.0" cy="218.0" rx="11.8" ry="9.0" fill="url(#gLC)"/>
<ellipse cx="796.6" cy="220.0" rx="10.4" ry="11.8" fill="url(#gLC)"/>
<ellipse cx="837.5" cy="211.0" rx="16.0" ry="10.4" fill="url(#gLC)"/>
<ellipse cx="889.0" cy="214.0" rx="16.0" ry="13.2" fill="url(#gLC)"/>
<ellipse cx="837.5" cy="235.0" rx="14.6" ry="10.4" fill="url(#gLC)"/>
<ellipse cx="876.0" cy="245.0" rx="13.2" ry="10.4" fill="url(#gLC)"/>
<ellipse cx="909.0" cy="238.0" rx="14.6" ry="14.6" fill="url(#gLC)"/>
<ellipse cx="695.0" cy="265.0" rx="21.6" ry="11.8" fill="url(#gLC)"/>
<ellipse cx="717.5" cy="280.0" rx="13.2" ry="14.6" fill="url(#gLC)"/>
<ellipse cx="675.0" cy="295.5" rx="11.8" ry="14.6" fill="url(#gLC)"/>
<ellipse cx="696.0" cy="304.0" rx="13.2" ry="16.0" fill="url(#gLC)"/>
<ellipse cx="733.0" cy="308.0" rx="16.0" ry="10.4" fill="url(#gLC)"/>
<ellipse cx="753.0" cy="256.0" rx="14.6" ry="7.6" fill="url(#gLC)"/>
<ellipse cx="852.0" cy="289.0" rx="14.6" ry="9.0" fill="url(#gLC)"/>
<ellipse cx="888.0" cy="290.0" rx="11.8" ry="10.4" fill="url(#gLC)"/>
<ellipse cx="912.7" cy="298.0" rx="10.4" ry="9.0" fill="url(#gLC)"/>
<ellipse cx="802.0" cy="256.0" rx="13.2" ry="7.6" fill="url(#gLC)"/>
<ellipse cx="725.4" cy="331.0" rx="16.0" ry="11.8" fill="url(#gLC)"/>
<ellipse cx="693.7" cy="339.0" rx="18.8" ry="9.0" fill="url(#gLC)"/>
<ellipse cx="759.7" cy="332.5" rx="23.0" ry="7.6" fill="url(#gLC)"/>
<ellipse cx="775.5" cy="352.3" rx="23.0" ry="11.8" fill="url(#gLC)"/>
<ellipse cx="902.0" cy="316.0" rx="13.2" ry="6.2" fill="url(#gLC)"/>
<ellipse cx="898.0" cy="333.8" rx="18.8" ry="11.8" fill="url(#gLC)"/>
<ellipse cx="914.0" cy="352.0" rx="10.4" ry="11.8" fill="url(#gLC)"/>
<ellipse cx="817.7" cy="353.6" rx="24.4" ry="10.4" fill="url(#gLC)"/>
<ellipse cx="860.0" cy="332.5" rx="30.0" ry="10.4" fill="url(#gLC)"/>
<ellipse cx="717.6" cy="397.8" rx="11.8" ry="11.8" fill="url(#gLC)"/>
<ellipse cx="739.4" cy="397.8" rx="11.8" ry="11.8" fill="url(#gLC)"/>
<ellipse cx="750.3" cy="431.8" rx="11.8" ry="10.4" fill="url(#gLC)"/>
<ellipse cx="683.0" cy="380.0" rx="21.6" ry="7.6" fill="url(#gLC)"/>
<ellipse cx="772.0" cy="414.5" rx="16.0" ry="9.0" fill="url(#gLC)"/>
<ellipse cx="790.0" cy="427.0" rx="16.0" ry="16.0" fill="url(#gLC)"/>
<ellipse cx="845.7" cy="392.3" rx="14.6" ry="13.2" fill="url(#gLC)"/>
<ellipse cx="826.5" cy="405.5" rx="13.2" ry="16.0" fill="url(#gLC)"/>
<ellipse cx="865.5" cy="419.5" rx="35.6" ry="9.0" fill="url(#gLC)"/>
<ellipse cx="799.5" cy="426.0" rx="9.0" ry="18.8" fill="url(#gLC)"/>
<ellipse cx="727.0" cy="168.0" rx="13.7" ry="9.8" fill="url(#gBR)"/>
<ellipse cx="681.0" cy="192.0" rx="18.9" ry="16.3" fill="url(#gBR)"/>
<ellipse cx="890.0" cy="156.0" rx="13.7" ry="13.7" fill="url(#gBR)"/>
<ellipse cx="914.0" cy="174.0" rx="9.8" ry="13.7" fill="url(#gBR)"/>
<ellipse cx="803.0" cy="202.0" rx="12.4" ry="9.8" fill="url(#gBR)"/>
<ellipse cx="914.0" cy="200.0" rx="9.8" ry="11.1" fill="url(#gBR)"/>
<ellipse cx="795.0" cy="288.0" rx="12.4" ry="9.8" fill="url(#gBR)"/>
<ellipse cx="829.6" cy="265.0" rx="11.1" ry="8.5" fill="url(#gBR)"/>
<ellipse cx="902.0" cy="308.7" rx="13.7" ry="9.8" fill="url(#gBR)"/>
<ellipse cx="683.2" cy="352.3" rx="18.9" ry="11.1" fill="url(#gBR)"/>
<ellipse cx="806.0" cy="331.8" rx="15.0" ry="8.5" fill="url(#gBR)"/>
<ellipse cx="902.0" cy="366.8" rx="11.1" ry="8.5" fill="url(#gBR)"/>
<ellipse cx="687.7" cy="408.0" rx="13.7" ry="12.4" fill="url(#gBR)"/>
<ellipse cx="870.2" cy="377.4" rx="13.7" ry="7.2" fill="url(#gBR)"/>
<ellipse cx="873.6" cy="397.8" rx="13.7" ry="8.5" fill="url(#gBR)"/>
<ellipse cx="915.0" cy="408.7" rx="8.5" ry="11.1" fill="url(#gBR)"/>
</g></g>
</svg>
<div class="t" style="left:0;width:300px;top:23px">Divide images into<br>patches</div>
<div class="t" style="left:316px;width:300px;top:23px">Embed each patch</div>
<div class="t" style="left:644px;width:300px;top:23px"><span style="position:relative;left:-1.6px">Match each word to each</span><br>patch in the doc</div>
<div class="v" style="left:0;width:931.2px;top:182px">[0.2, 0.3, ...]<br>[0.7, 0.8, ...]<br>...<br>[0.5, 0.3, ...]</div>
</body></html>
